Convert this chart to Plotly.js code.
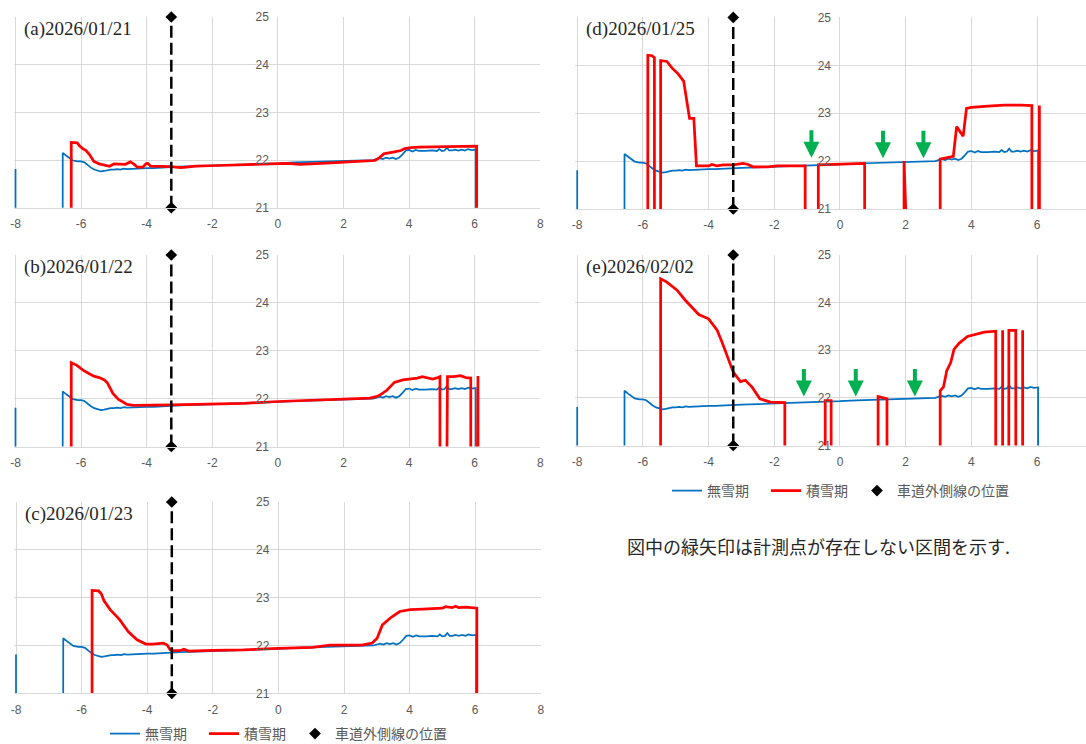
<!DOCTYPE html>
<html><head><meta charset="utf-8">
<script src="https://cdn.plot.ly/plotly-3.0.1.min.js"></script>
<style>html,body{margin:0;padding:0;background:#fff}#chart{width:1086px;height:744px}</style>
</head><body><div id="chart"></div>
<script>
// ---------------- data ----------------
const seriesNames = ['無雪期', '積雪期', '車道外側線の位置'];
const panelLabels = ['(a)2026/01/21', '(b)2026/01/22', '(c)2026/01/23', '(d)2026/01/25', '(e)2026/02/02'];
const noteText = '図中の緑矢印は計測点が存在しない区間を示す.';

// 無雪期 (common to all panels); 0 = no measurement (below axis)
const blueX = [-8.00, -7.99, -6.57, -6.56, -6.45, -6.35, -6.25, -6.10, -6.00, -5.90, -5.80, -5.70, -5.60, -5.50, -5.40, -5.30, -5.20, -5.10, -5.00, -4.90, -4.80, -4.70, -4.60, -4.40, -4.20, -4.00, -3.80, -3.60, -3.40, -3.20, -3.00, -2.50, -2.00, -1.50, -1.00, -0.50, 0.00, 0.50, 1.00, 1.50, 2.00, 2.50, 2.90, 3.00, 3.10, 3.20, 3.30, 3.40, 3.50, 3.60, 3.70, 3.80, 3.90, 4.00, 4.10, 4.20, 4.30, 4.50, 4.70, 4.85, 4.92, 5.00, 5.08, 5.15, 5.22, 5.30, 5.40, 5.50, 5.60, 5.70, 5.80, 5.90, 6.03, 6.04];
const blueY = [21.81, 0, 0, 22.15, 22.09, 22.03, 21.99, 21.97, 21.97, 21.95, 21.89, 21.84, 21.80, 21.78, 21.76, 21.77, 21.79, 21.80, 21.80, 21.81, 21.80, 21.82, 21.81, 21.82, 21.82, 21.83, 21.83, 21.84, 21.85, 21.85, 21.86, 21.87, 21.88, 21.90, 21.91, 21.92, 21.93, 21.95, 21.96, 21.97, 21.98, 21.99, 22.00, 22.02, 22.04, 22.02, 22.05, 22.03, 22.05, 22.02, 22.05, 22.12, 22.20, 22.21, 22.18, 22.21, 22.19, 22.19, 22.20, 22.19, 22.23, 22.19, 22.20, 22.26, 22.20, 22.20, 22.22, 22.20, 22.22, 22.20, 22.23, 22.21, 22.22, 0];

// 積雪期 per date
const redAX = [-6.31, -6.30, -6.12, -6.05, -5.95, -5.85, -5.75, -5.61, -5.45, -5.30, -5.13, -5.00, -4.85, -4.65, -4.50, -4.40, -4.28, -4.12, -4.02, -3.97, -3.88, -3.60, -3.27, -2.95, -2.50, -2.10, -1.50, -1.03, -0.50, 0.00, 0.30, 0.67, 1.10, 1.63, 2.16, 2.60, 2.96, 3.10, 3.23, 3.55, 3.75, 3.87, 4.05, 4.29, 4.80, 5.36, 5.80, 6.06, 6.07];
const redAY = [0, 22.37, 22.36, 22.30, 22.24, 22.20, 22.12, 21.97, 21.92, 21.89, 21.87, 21.92, 21.91, 21.91, 21.96, 21.92, 21.85, 21.85, 21.92, 21.93, 21.87, 21.87, 21.86, 21.84, 21.87, 21.88, 21.89, 21.90, 21.92, 21.93, 21.93, 21.91, 21.93, 21.94, 21.96, 21.98, 21.99, 22.05, 22.13, 22.17, 22.20, 22.24, 22.26, 22.27, 22.28, 22.29, 22.29, 22.29, 0];

const redBX = [-6.31, -6.30, -6.14, -5.93, -5.75, -5.61, -5.45, -5.29, -5.20, -5.13, -5.03, -4.87, -4.72, -4.60, -4.40, -4.23, -3.27, -2.50, -1.03, 0.00, 1.00, 2.16, 2.80, 3.00, 3.12, 3.33, 3.45, 3.55, 3.81, 4.08, 4.25, 4.40, 4.55, 4.72, 4.88, 4.94, 4.95, 5.16, 5.17, 5.36, 5.57, 5.73, 5.88, 5.89, 6.09, 6.10, 6.11];
const redBY = [0, 22.75, 22.70, 22.59, 22.52, 22.47, 22.44, 22.39, 22.33, 22.25, 22.11, 21.99, 21.92, 21.88, 21.86, 21.86, 21.87, 21.88, 21.90, 21.94, 21.96, 21.99, 22.01, 22.04, 22.08, 22.18, 22.28, 22.34, 22.39, 22.41, 22.43, 22.46, 22.43, 22.41, 22.44, 22.46, 0, 0, 22.46, 22.46, 22.48, 22.44, 22.43, 0, 0, 22.47, 0];

const redCX = [-5.69, -5.68, -5.48, -5.40, -5.32, -5.13, -4.84, -4.58, -4.31, -4.04, -3.83, -3.51, -3.39, -3.30, -3.20, -3.00, -2.88, -2.72, -2.00, -1.07, 0.00, 1.05, 1.58, 2.00, 2.54, 2.86, 3.01, 3.17, 3.44, 3.70, 4.02, 4.40, 4.77, 5.00, 5.10, 5.30, 5.40, 5.50, 5.72, 6.05, 6.06];
const redCY = [0, 23.15, 23.14, 23.08, 22.94, 22.75, 22.54, 22.29, 22.12, 22.03, 22.03, 22.05, 22.01, 21.91, 21.89, 21.89, 21.92, 21.88, 21.90, 21.91, 21.94, 21.96, 22.01, 22.01, 22.01, 22.05, 22.15, 22.43, 22.59, 22.71, 22.75, 22.76, 22.78, 22.78, 22.81, 22.79, 22.82, 22.79, 22.80, 22.78, 0];

const redDX = [-5.86, -5.85, -5.72, -5.65, -5.64, -5.47, -5.46, -5.27, -5.11, -4.94, -4.76, -4.58, -4.45, -4.37, -4.00, -3.90, -3.75, -3.55, -3.25, -2.95, -2.80, -2.65, -2.20, -1.90, -1.50, -1.06, -1.05, -0.67, -0.66, 0.00, 0.50, 0.75, 0.76, 1.94, 1.95, 1.96, 3.04, 3.05, 3.45, 3.55, 3.75, 3.85, 4.00, 4.50, 5.00, 5.50, 5.84, 5.85, 6.06, 6.07, 6.08];
const redDY = [0, 24.21, 24.20, 24.16, 0, 0, 24.10, 24.08, 23.94, 23.83, 23.67, 22.89, 22.89, 21.90, 21.90, 21.93, 21.90, 21.92, 21.92, 21.95, 21.93, 21.88, 21.88, 21.90, 21.90, 21.90, 0, 0, 21.92, 21.94, 21.95, 21.95, 0, 0, 22.00, 0, 0, 22.04, 22.10, 22.72, 22.52, 23.10, 23.12, 23.15, 23.17, 23.17, 23.16, 0, 0, 23.16, 0];

const redEX = [-5.47, -5.46, -5.27, -4.96, -4.71, -4.30, -4.00, -3.74, -3.59, -3.44, -3.25, -3.03, -2.88, -2.67, -2.44, -2.12, -1.68, -1.67, -0.46, -0.45, -0.27, -0.26, 1.15, 1.16, 1.43, 1.44, 3.04, 3.05, 3.15, 3.25, 3.37, 3.47, 3.63, 3.88, 4.19, 4.39, 4.74, 4.75, 4.94, 4.95, 4.96, 5.13, 5.14, 5.35, 5.36, 5.55, 5.56, 5.57];
const redEY = [0, 24.50, 24.43, 24.26, 24.05, 23.75, 23.66, 23.42, 23.17, 22.89, 22.54, 22.34, 22.37, 22.22, 21.98, 21.91, 21.90, 0, 0, 21.94, 21.94, 0, 0, 22.03, 21.98, 0, 0, 22.15, 22.23, 22.57, 22.74, 23.02, 23.15, 23.29, 23.34, 23.38, 23.40, 0, 0, 23.42, 0, 0, 23.42, 23.42, 0, 0, 23.42, 0];

// 車道外側線の位置
const edgeLineX = -3.25;
const edgeLineY = [21, 25];

// green arrows: sections without measurement points (x, tip y)
const arrowsDX = [-0.87, 1.31, 2.54];
const arrowsDY = [22.07, 22.06, 22.06];
const arrowsEX = [-1.10, 0.48, 2.28];
const arrowsEY = [22.03, 22.03, 22.03];

// axis ticks
const xTicks = [-8, -6, -4, -2, 0, 2, 4, 6, 8];
const yTicks = [21, 22, 23, 24, 25];

// ---------------- layout ----------------
const W = 1086, H = 744;
const px2x = p => p / W, px2y = p => 1 - p / H;
const redData = [[redAX, redAY], [redBX, redBY], [redCX, redCY], [redDX, redDY], [redEX, redEY]];
const geom = [
  {x0: 15.5, unit: 32.8, right: 540.3, top: 17.0, bottom: 207.7, legend: null},
  {x0: 15.5, unit: 32.8, right: 540.3, top: 255.0, bottom: 446.5, legend: null},
  {x0: 16.0, unit: 32.8, right: 540.8, top: 502.0, bottom: 693.3, legend: 'legend'},
  {x0: 577.2, unit: 32.85, right: 1086, top: 17.4, bottom: 209.0, legend: null},
  {x0: 577.2, unit: 32.85, right: 1086, top: 255.0, bottom: 445.5, legend: 'legend2'}
];
const legendItemWidths = [54, 46, 130];
const BLUE = '#0070c0', RED = '#ff0000', GREEN = '#00b050', GRID = '#d9d9d9', TICK = '#595959';
const tickFont = {family: 'Liberation Sans, Arial, sans-serif', size: 12, color: TICK};
const legendFont = {family: 'Noto Sans CJK JP, sans-serif', size: 14, color: TICK};

const traces = [];
const layout = {
  width: W, height: H, margin: {l: 0, r: 0, t: 0, b: 0, autoexpand: false},
  paper_bgcolor: '#ffffff', plot_bgcolor: '#ffffff',
  showlegend: true, annotations: [],
  legend: {orientation: 'h', xref: 'container', yref: 'container', x: px2x(105), y: px2y(734),
    xanchor: 'left', yanchor: 'middle', font: legendFont, bgcolor: 'rgba(0,0,0,0)', traceorder: 'normal'},
  legend2: {orientation: 'h', xref: 'container', yref: 'container', x: px2x(667), y: px2y(491),
    xanchor: 'left', yanchor: 'middle', font: legendFont, bgcolor: 'rgba(0,0,0,0)', traceorder: 'normal'}
};

geom.forEach((g, i) => {
  const n = i + 1, xa = 'x' + n, ya = 'y' + n;
  const xmin = -8 - 0.06;
  const xmax = -8 + (g.right - g.x0) / g.unit;
  layout['xaxis' + n] = {
    domain: [px2x(g.x0 - 0.06 * g.unit), px2x(g.right)], range: [xmin, xmax], anchor: ya,
    tickvals: xTicks, ticktext: xTicks.map(String), showgrid: true, gridcolor: GRID, gridwidth: 1,
    zeroline: false, showline: true, linecolor: GRID, linewidth: 1, ticks: '', tickfont: tickFont,
    ticklabelstandoff: 5, fixedrange: true, automargin: false
  };
  layout['yaxis' + n] = {
    domain: [px2y(g.bottom), px2y(g.top)], range: [21, 25], anchor: 'free',
    position: px2x(g.x0 + 8 * g.unit), tickvals: yTicks, ticktext: yTicks.map(String),
    showgrid: true, gridcolor: GRID, gridwidth: 1, zeroline: false, showline: false, ticks: '',
    tickfont: tickFont, ticklabelstandoff: 9, fixedrange: true, automargin: false
  };
  const lg = g.legend;
  traces.push({x: blueX, y: blueY, xaxis: xa, yaxis: ya, type: 'scatter', mode: 'lines', name: seriesNames[0],
    line: {color: BLUE, width: 1.75}, showlegend: !!lg, legend: lg || 'legend', legendwidth: legendItemWidths[0], hoverinfo: 'skip'});
  traces.push({x: redData[i][0], y: redData[i][1], xaxis: xa, yaxis: ya, type: 'scatter', mode: 'lines', name: seriesNames[1],
    line: {color: RED, width: 2.75}, showlegend: !!lg, legend: lg || 'legend', legendwidth: legendItemWidths[1], hoverinfo: 'skip'});
  traces.push({x: [edgeLineX, edgeLineX], y: edgeLineY, xaxis: xa, yaxis: ya, type: 'scatter', mode: 'lines',
    line: {color: '#000000', width: 2.5, dash: '12px,5px'}, showlegend: false, hoverinfo: 'skip'});
  traces.push({x: [edgeLineX, edgeLineX], y: edgeLineY, xaxis: xa, yaxis: ya, type: 'scatter', mode: 'markers', name: seriesNames[2],
    marker: {symbol: 'diamond', size: 9, color: '#000000'}, cliponaxis: false,
    showlegend: !!lg, legend: lg || 'legend', legendwidth: legendItemWidths[2], hoverinfo: 'skip'});

  layout.annotations.push({text: panelLabels[i], xref: 'paper', yref: 'paper', x: px2x(g.x0 + 6.5), y: px2y(g.top + 12),
    xanchor: 'left', yanchor: 'middle', showarrow: false,
    font: {family: 'Liberation Serif, Times New Roman, serif', size: 19, color: '#262626'}});
});

// arrows
[[arrowsDX, arrowsDY, 4], [arrowsEX, arrowsEY, 5]].forEach(([ax, ay, n]) => {
  ax.forEach((x, k) => {
    layout.annotations.push({x: x, y: ay[k], xref: 'x' + n, yref: 'y' + n, text: '', showarrow: true,
      ax: 0, ay: -29, arrowcolor: GREEN, arrowwidth: 4, arrowhead: 2, arrowsize: 0.8, standoff: 0});
  });
});

layout.annotations.push({text: noteText, xref: 'paper', yref: 'paper', x: px2x(818), y: px2y(546),
  xanchor: 'center', yanchor: 'middle', showarrow: false,
  font: {family: 'Noto Sans CJK JP, sans-serif', size: 18, color: '#262626'}});

Plotly.newPlot('chart', traces, layout, {staticPlot: true, displayModeBar: false});
</script></body></html>
